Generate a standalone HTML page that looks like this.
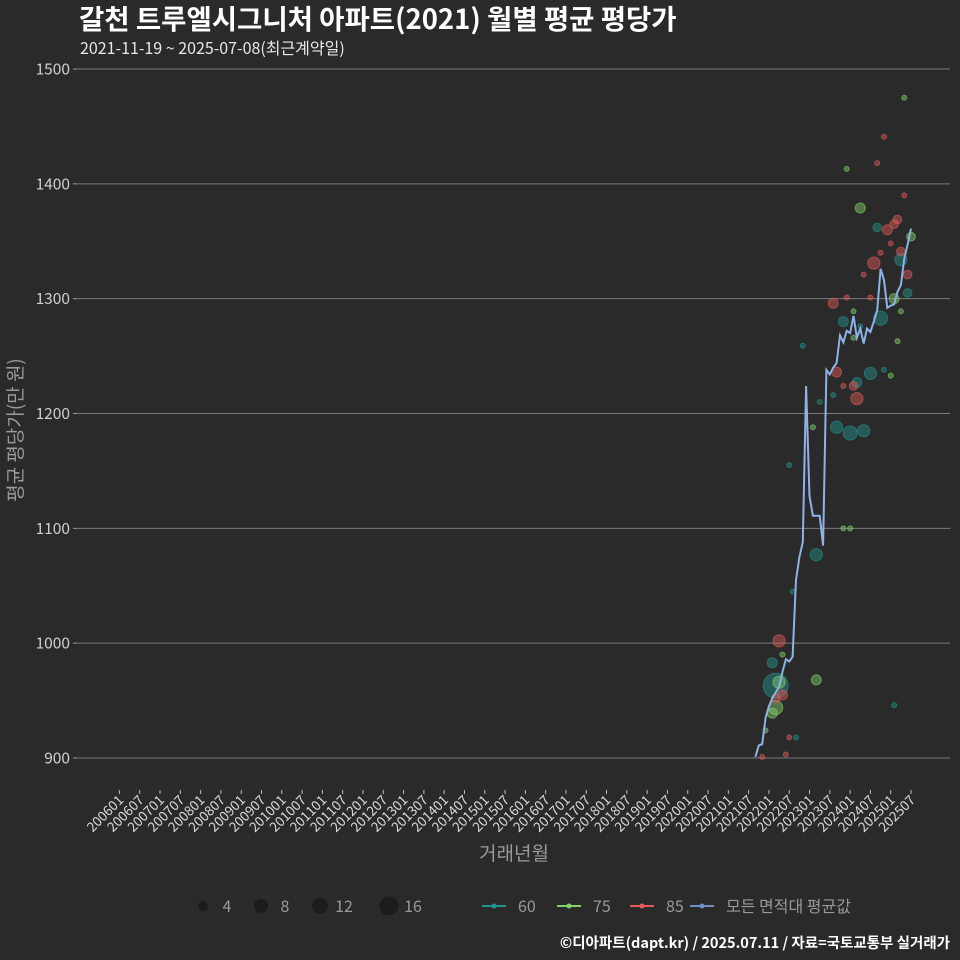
<!DOCTYPE html>
<html><head><meta charset="utf-8"><style>
html,body{margin:0;padding:0;background:#2a2a2a;}
svg{display:block;font-family:"Noto Sans CJK KR","Liberation Sans",sans-serif;}
</style></head><body>
<svg id="chart" width="960" height="960" viewBox="0 0 960 960" xmlns="http://www.w3.org/2000/svg">
<rect width="960" height="960" fill="#2a2a2a"/>
<text x="79" y="29" fill="#ffffff" font-size="27.5" font-weight="bold">갈천 트루엘시그니처 아파트(2021) 월별 평균 평당가</text>
<text x="80" y="54" fill="#e8e8e8" font-size="16">2021-11-19 ~ 2025-07-08(최근계약일)</text>
<g id="grid"></g>
<g id="xaxis"></g>
<g id="marks"></g>
<text transform="translate(22,430) rotate(-90)" text-anchor="middle" fill="#9a9a9a" font-size="19">평균 평당가(만 원)</text>
<text x="514" y="860" text-anchor="middle" fill="#9a9a9a" font-size="19">거래년월</text>
<g id="legend"></g>
<text x="950" y="948" text-anchor="end" fill="#ffffff" font-size="14.5" font-weight="bold">©디아파트(dapt.kr) / 2025.07.11 / 자료=국토교통부 실거래가</text>
</svg>
<script>
const yTicks=[900,1000,1100,1200,1300,1400,1500];
const lineMonths=["202109","202110","202111","202112","202201","202202","202203","202204","202205","202206","202207","202208","202209","202210","202211","202212","202301","202302","202303","202304","202305","202306","202307","202308","202309","202310","202311","202312","202401","202402","202403","202404","202405","202406","202407","202408","202409","202410","202411","202412","202501","202502","202503","202504","202505","202506","202507"];
const lineValues=[901,911,912,935,945,952,957,962,975,986,984,988,1055,1075,1088,1224,1128,1111,1111,1111,1085,1238,1234,1240,1244,1268,1262,1272,1270,1285,1266,1274,1261,1274,1271,1280,1290,1326,1316,1292,1294,1295,1306,1312,1335,1347,1361];
const bubOffset=[44,38,36,27,44,31,42,41,36,39,46,40,37,43,43,35,45,32,27,34,41,23,45,29,43,37,26,31,29,14,42,24,34,38,40,30,26,29,30,23,19,17,24,28,32,10,18,11,7,8,5,18,6,7,8,6,6,5,3,10,12,2,9,26,28,41];
const bubValues=[1475,1441,1418,1413,1390,1379,1369,1365,1362,1360,1354,1348,1340,1341,1334,1331,1321,1321,1301,1301,1300,1296,1305,1289,1289,1283,1280,1276,1266,1259,1263,1236,1235,1238,1233,1227,1224,1224,1213,1216,1210,1188,1188,1183,1185,1155,1077,1045,1002,990,983,968,963,966,955,952,944,939,924,918,918,901,903,1100,1100,946];
const bubSizes=[1,1,1,1,1,4,3,3,3,4,3,1,1,3,6,6,3,1,1,1,4,4,3,1,1,8,4,1,1,1,1,4,6,1,1,4,1,3,6,1,1,1,6,8,6,1,6,1,6,1,4,4,25,6,4,3,8,4,1,1,1,1,1,1,1,1];
const bubTypes=["75","85","85","75","85","75","85","85","60","85","75","85","85","85","60","85","85","85","85","85","75","85","60","75","75","60","60","60","75","60","75","85","60","60","75","60","85","85","85","60","60","75","60","60","60","60","60","60","85","75","60","75","60","75","85","85","75","75","75","85","60","85","85","75","75","60"];
const xTickLabels=[];for(let y=2006;y<=2025;y++){xTickLabels.push(y+"01");xTickLabels.push(y+"07");}

const NS="http://www.w3.org/2000/svg";
const colors={"60":"#23938c","75":"#82d36c","85":"#e25a5a"};
function mk(tag,attrs,parent){const e=document.createElementNS(NS,tag);for(const k in attrs)e.setAttribute(k,attrs[k]);parent.appendChild(e);return e;}
function monthIdx(s){return (parseInt(s.slice(0,4))-2006)*12+(parseInt(s.slice(4))-1);}
function xs(s){return 119.4+monthIdx(s)*3.383;}
function ys(v){return 758-(v-900)*1.1483;}
const grid=document.getElementById('grid');
yTicks.forEach(v=>{
 const l=mk('line',{x1:77,x2:950,y1:ys(v),y2:ys(v),stroke:'#7a7a7a','stroke-width':1},grid);
 
 
 const t=mk('line',{x1:73,x2:77,y1:ys(v),y2:ys(v),stroke:'#9a9a9a'},grid);
 
 
 const tx=mk('text',{x:70,y:ys(v)+5.5,'text-anchor':'end',fill:'#d0d0d0','font-size':15.5},grid);
 tx.textContent=v;
 
 
});
const xa=document.getElementById('xaxis');
xTickLabels.forEach(s=>{
 const x=xs(s);
 const t=mk('line',{x1:x,x2:x,y1:790,y2:794,stroke:'#bbbbbb'},xa);
 
 
 const tx=mk('text',{transform:`translate(${x+5},${801}) rotate(-45)`,'text-anchor':'end',fill:'#d8d8d8','font-size':13.5},xa);
 tx.textContent=s;
 
 
});
const marks=document.getElementById('marks');
const order=bubOffset.map((_,i)=>i).sort((a,b)=>bubSizes[b]-bubSizes[a]);
order.forEach(i=>{
 const c=mk('circle',{cx:xs(lineMonths[bubOffset[i]]),cy:ys(bubValues[i]),r:2.5*Math.sqrt(bubSizes[i]),fill:colors[bubTypes[i]],'fill-opacity':0.45,stroke:colors[bubTypes[i]],'stroke-opacity':0.6},marks);
 
 
});
const pts=lineMonths.map((m,i)=>xs(m).toFixed(1)+','+ys(lineValues[i]).toFixed(1)).join(' ');
const pl=mk('polyline',{points:pts,fill:'none',stroke:'#8fb2e6','stroke-width':2},marks);


const lg=document.getElementById('legend');
[[4,203,5],[8,261,7],[12,320,8],[16,389,9.5]].forEach(([s,x,r])=>{
 const c=mk('circle',{cx:x,cy:906,r:r,fill:'#1c1c1c'},lg);
 
 
 const t=mk('text',{x:x+24,y:912,fill:'#9a9a9a','font-size':16,'text-anchor':'middle'},lg);
 t.textContent=s;
 
 
});
[["60",482,"#23938c"],["75",557,"#82d36c"],["85",630,"#e25a5a"],["모든 면적대 평균값",690,"#6f8fc8"]].forEach(([lab,x,col])=>{
 const l=mk('line',{x1:x,x2:x+24,y1:906,y2:906,stroke:col,'stroke-width':2},lg);
 
 
 const c=mk('circle',{cx:x+12,cy:906,r:2.5,fill:col},lg);
 
 
 const t=mk('text',{x:x+36,y:912,fill:'#9a9a9a','font-size':16},lg);
 t.textContent=lab;
 
 
});
</script>
</body></html>
